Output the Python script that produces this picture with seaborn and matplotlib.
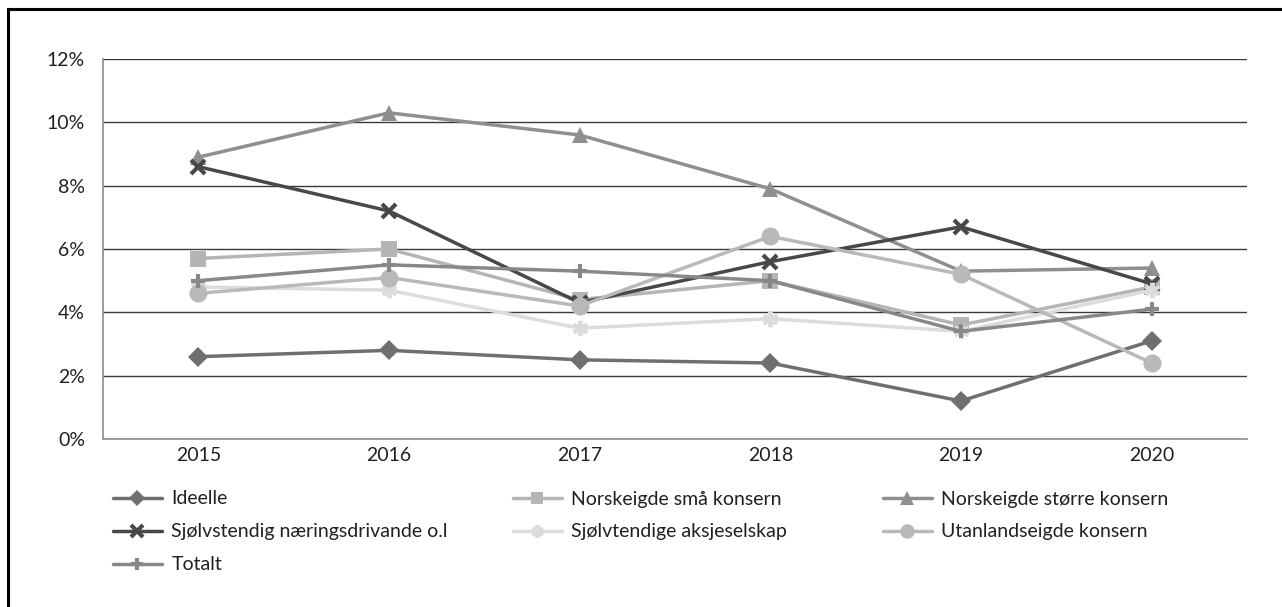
import matplotlib
matplotlib.use("Agg")
import matplotlib.pyplot as plt
import seaborn as sns
import pandas as pd
from matplotlib.patches import Rectangle
from matplotlib.ticker import FuncFormatter

years = ["2015", "2016", "2017", "2018", "2019", "2020"]
ideelle = [2.6, 2.8, 2.5, 2.4, 1.2, 3.1]
norsk_sma = [5.7, 6.0, 4.4, 5.0, 3.6, 4.8]
norsk_storre = [8.9, 10.3, 9.6, 7.9, 5.3, 5.4]
sjolvstendig = [8.6, 7.2, 4.3, 5.6, 6.7, 4.9]
aksjeselskap = [4.8, 4.7, 3.5, 3.8, 3.4, 4.7]
utanlands = [4.6, 5.1, 4.2, 6.4, 5.2, 2.4]
totalt = [5.0, 5.5, 5.3, 5.0, 3.4, 4.1]

names = ["Ideelle", "Norskeigde små konsern", "Norskeigde større konsern",
         "Sjølvstendig næringsdrivande o.l", "Sjølvtendige aksjeselskap",
         "Utanlandseigde konsern", "Totalt"]
series = [ideelle, norsk_sma, norsk_storre, sjolvstendig, aksjeselskap, utanlands, totalt]
y_ticks = [0, 2, 4, 6, 8, 10, 12]

colors = {
    "Ideelle": "#6f6f70",
    "Norskeigde små konsern": "#b5b5b7",
    "Norskeigde større konsern": "#8f8f90",
    "Sjølvstendig næringsdrivande o.l": "#48484a",
    "Sjølvtendige aksjeselskap": "#dcdcdd",
    "Utanlandseigde konsern": "#b9b9bb",
    "Totalt": "#88888a",
}
markers = {
    "Ideelle": "D",
    "Norskeigde små konsern": "s",
    "Norskeigde større konsern": "^",
    "Sjølvstendig næringsdrivande o.l": "x",
    "Sjølvtendige aksjeselskap": (6, 2, 0),
    "Utanlandseigde konsern": "o",
    "Totalt": "+",
}
msizes = {
    "Ideelle": 10, "Norskeigde små konsern": 11.5, "Norskeigde større konsern": 12,
    "Sjølvstendig næringsdrivande o.l": 10, "Sjølvtendige aksjeselskap": 11,
    "Utanlandseigde konsern": 13, "Totalt": 10,
}

rows = []
for n, vals in zip(names, series):
    for y, v in zip(years, vals):
        rows.append({"year": y, "value": v, "series": n})
df = pd.DataFrame(rows)

sns.set_style("white")
plt.rcParams["font.family"] = ["Lato", "DejaVu Sans"]
text_color = "#231f20"

fig = plt.figure(figsize=(12.82, 6.07), dpi=100)
ax = fig.add_axes([103 / 1282, 1 - 439 / 607, (1247 - 103) / 1282, (439 - 59) / 607])

handles = {}
for n in names:
    sub = df[df["series"] == n]
    stroke = markers[n] in ("x", "+") or isinstance(markers[n], tuple)
    sns.lineplot(data=sub, x="year", y="value", ax=ax, color=colors[n], linewidth=2.5,
                 marker=markers[n], markersize=msizes[n],
                 markeredgewidth=3.0 if stroke else 0,
                 markeredgecolor=colors[n], markerfacecolor=colors[n], label=n, legend=False)
    handles[n] = ax.lines[-1]

ax.set_xlim(-0.5, 5.5)
ax.set_ylim(0, 12)
ax.set_yticks(y_ticks)
ax.yaxis.set_major_formatter(FuncFormatter(lambda v, p: f"{int(v)}%"))
ax.grid(axis="y", color="#3a3a3a", linewidth=1.0)
ax.grid(axis="x", visible=False)
ax.set_axisbelow(True)
ax.set_xlabel("")
ax.set_ylabel("")
for s in ["top", "right"]:
    ax.spines[s].set_visible(False)
for s in ["left", "bottom"]:
    ax.spines[s].set_color("#8c8c8c")
    ax.spines[s].set_linewidth(1.2)
ax.tick_params(axis="both", length=0, labelsize=14, colors=text_color)
ax.tick_params(axis="y", pad=13)
ax.tick_params(axis="x", pad=6)

cols = [
    (113, ["Ideelle", "Sjølvstendig næringsdrivande o.l", "Totalt"]),
    (513, ["Norskeigde små konsern", "Sjølvtendige aksjeselskap"]),
    (883, ["Norskeigde større konsern", "Utanlandseigde konsern"]),
]
for x0, labs in cols:
    leg = fig.legend([handles[l] for l in labs], labs, loc="upper left",
                     bbox_to_anchor=(x0 / 1282, 1 - 490.5 / 607), frameon=False,
                     fontsize=14, handlelength=2.5, handletextpad=0.5,
                     labelspacing=0.82, borderpad=0, borderaxespad=0,
                     labelcolor=text_color, markerscale=0.8)

fig.patches.append(Rectangle((8 / 1282, -0.2), 1.5, 1.2 - 9 / 607,
                             transform=fig.transFigure, fill=False,
                             edgecolor="black", linewidth=2.2))

fig.savefig("out.png", dpi=100)
